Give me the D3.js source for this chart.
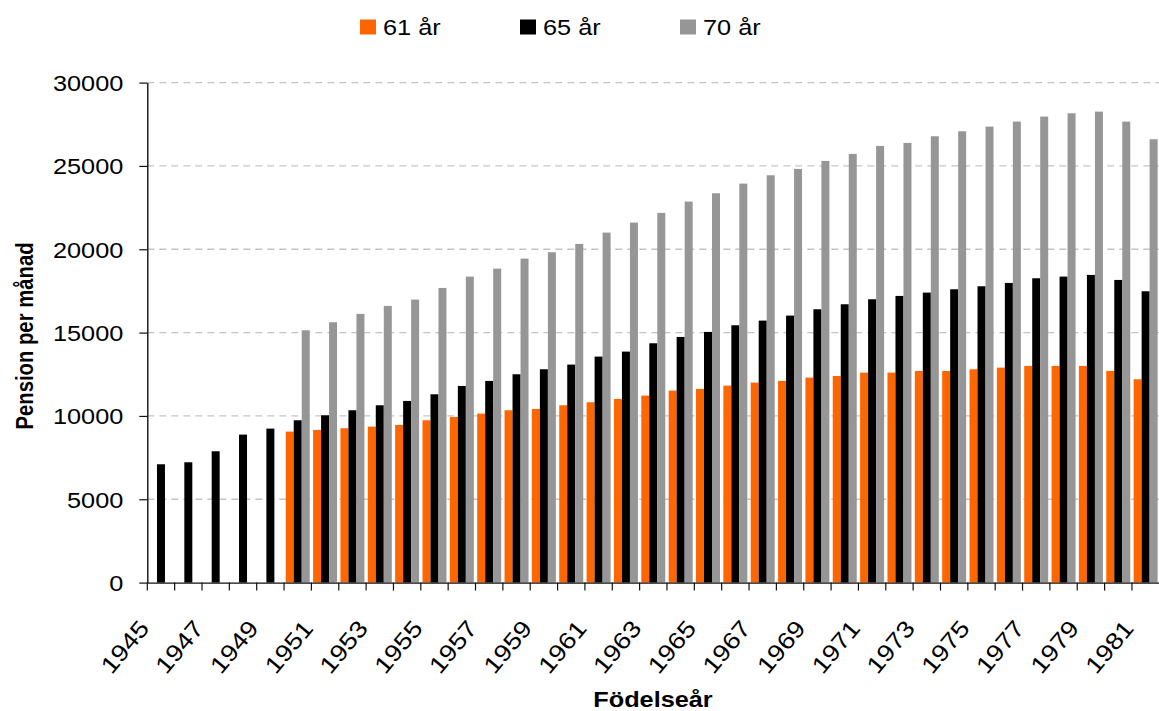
<!DOCTYPE html>
<html>
<head>
<meta charset="utf-8">
<script src="https://cdn.jsdelivr.net/npm/d3@7"></script>
<style>
  html, body { margin: 0; padding: 0; background: #fff; }
  svg { display: block; font-family: "Liberation Sans", Arial, sans-serif; }
</style>
</head>
<body>
<svg id="chart" width="1159" height="711"></svg>
<script>
// Födelseår (birth years) shown on the category axis
const years = [1945, 1946, 1947, 1948, 1949, 1950, 1951, 1952, 1953, 1954,
  1955, 1956, 1957, 1958, 1959, 1960, 1961, 1962, 1963, 1964, 1965, 1966,
  1967, 1968, 1969, 1970, 1971, 1972, 1973, 1974, 1975, 1976, 1977, 1978,
  1979, 1980, 1981];

// Pension per månad when retiring at 61 years (no value before 1950)
const pension61 = [null, null, null, null, null, 9060, 9160, 9260, 9360, 9460,
  9740, 9940, 10140, 10340, 10420, 10640, 10820, 11020, 11220, 11520, 11620,
  11820, 12000, 12100, 12300, 12400, 12600, 12600, 12700, 12700, 12800, 12900,
  13000, 13000, 13000, 12700, 12200];

// Pension per månad when retiring at 65 years
const pension65 = [7100, 7220, 7880, 8880, 9240, 9740, 10040, 10340, 10640,
  10900, 11300, 11800, 12100, 12500, 12800, 13080, 13560, 13860, 14360, 14740,
  15040, 15440, 15720, 16020, 16400, 16700, 17000, 17200, 17400, 17600, 17780,
  17980, 18260, 18360, 18460, 18160, 17480];

// Pension per månad when retiring at 70 years (no value before 1950)
const pension70 = [null, null, null, null, null, 15140, 15620, 16120, 16600,
  16980, 17680, 18360, 18840, 19440, 19820, 20320, 21000, 21600, 22180, 22860,
  23360, 23940, 24440, 24820, 25300, 25720, 26200, 26380, 26780, 27080, 27360,
  27660, 27960, 28160, 28260, 27660, 26600];

const seriesNames = ["61 år", "65 år", "70 år"];
const seriesColors = ["#ff6600", "#000000", "#969696"];
const yTicks = [0, 5000, 10000, 15000, 20000, 25000, 30000];
const xTickLabels = years.filter((d, i) => i % 2 === 0);

const seriesValues = [pension61, pension65, pension70];
const svg = d3.select("#chart");

// horizontal text stretch used for all labels
const SX = 1.15;

const plot = { left: 147.3, right: 1159.3, top: 82.6, bottom: 582.6 };

const x = d3.scaleBand().domain(years).range([plot.left, plot.right]).padding(0);
const x1 = d3.scaleBand().domain(seriesNames).range([0, x.bandwidth()])
  .paddingInner(0).paddingOuter(0.21);
const y = d3.scaleLinear().domain([0, 30000]).range([plot.bottom, plot.top]);

// dashed horizontal grid lines
svg.append("g")
  .selectAll("line")
  .data(yTicks.filter(d => d > 0))
  .join("line")
  .attr("x1", plot.left)
  .attr("x2", plot.right)
  .attr("y1", d => y(d))
  .attr("y2", d => y(d))
  .attr("stroke", "#c4c4c4")
  .attr("stroke-width", 1.3)
  .attr("stroke-dasharray", "7,5");

// grouped bars
const rows = years.map((yr, i) => ({
  year: yr,
  values: seriesNames.map((s, k) => ({ key: s, color: seriesColors[k], v: seriesValues[k][i] }))
}));

svg.append("g")
  .selectAll("g")
  .data(rows)
  .join("g")
  .attr("transform", d => `translate(${x(d.year)},0)`)
  .selectAll("rect")
  .data(d => d.values.filter(v => v.v != null))
  .join("rect")
  .attr("x", d => x1(d.key))
  .attr("width", x1.bandwidth())
  .attr("y", d => y(d.v))
  .attr("height", d => y(0) - y(d.v))
  .attr("fill", d => d.color);

// y axis
const yAxis = svg.append("g")
  .attr("transform", `translate(${plot.left},0)`)
  .call(d3.axisLeft(y).tickValues(yTicks).tickSize(8).tickSizeOuter(0).tickFormat(d3.format("d")));
yAxis.select(".domain").attr("stroke", "#111").attr("stroke-width", 1.4);
yAxis.selectAll(".tick line").attr("stroke", "#111").attr("stroke-width", 1.2);
yAxis.selectAll(".tick text")
  .attr("x", null).attr("dy", null)
  .attr("transform", `translate(-24,8) scale(${SX},1)`)
  .attr("text-anchor", "end")
  .attr("font-size", 22)
  .attr("fill", "#000");

// x axis: tick marks sit on category boundaries, labels at the tick
const xAxis = svg.append("g")
  .attr("transform", `translate(0,${plot.bottom})`)
  .call(d3.axisBottom(x).tickValues(years).tickSize(8).tickSizeOuter(0)
    .tickFormat(d => xTickLabels.includes(d) ? d : ""));
xAxis.select(".domain").attr("stroke", "#111").attr("stroke-width", 1.4);
xAxis.selectAll(".tick").attr("transform", d => `translate(${x(d)},0)`);
xAxis.selectAll(".tick line").attr("stroke", "#111").attr("stroke-width", 1.2);
xAxis.selectAll(".tick text")
  .attr("y", null).attr("dy", null)
  .attr("text-anchor", "end")
  .attr("transform", `translate(3,46.5) rotate(-50) scale(${SX},1)`)
  .attr("font-size", 23.5)
  .attr("fill", "#000");

// axis titles
svg.append("text")
  .attr("transform", `translate(653,707) scale(${SX},1)`)
  .attr("text-anchor", "middle")
  .attr("font-size", 22)
  .attr("font-weight", "bold")
  .text("Födelseår");

svg.append("text")
  .attr("transform", `translate(33,336) scale(${SX},1) rotate(-90)`)
  .attr("text-anchor", "middle")
  .attr("font-size", 20.3)
  .attr("font-weight", "bold")
  .text("Pension per månad");

// legend
const legendX = [360, 520, 680];
const legend = svg.append("g")
  .selectAll("g")
  .data(seriesNames)
  .join("g")
  .attr("transform", (d, i) => `translate(${legendX[i]},0)`);
legend.append("rect")
  .attr("x", 0).attr("y", 19.5)
  .attr("width", 16).attr("height", 15)
  .attr("fill", (d, i) => seriesColors[i]);
legend.append("text")
  .attr("transform", `translate(23,35) scale(${SX},1)`)
  .attr("font-size", 22)
  .attr("fill", "#000")
  .text(d => d);
</script>
</body>
</html>
